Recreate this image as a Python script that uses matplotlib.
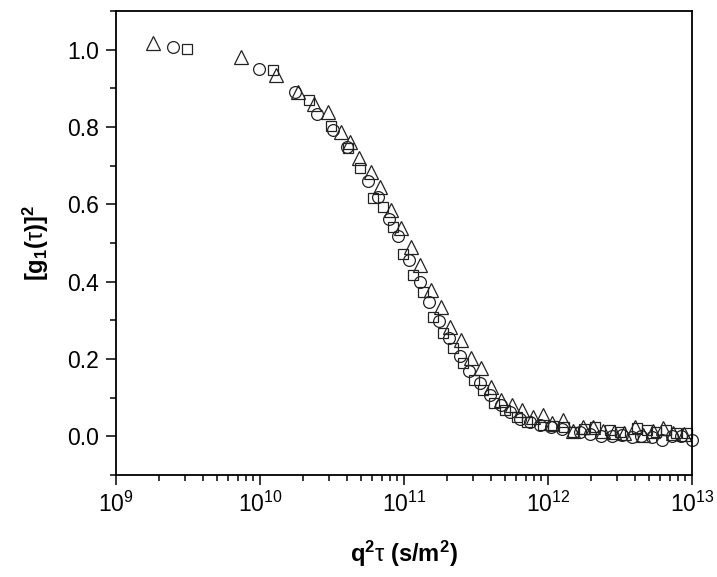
import matplotlib
matplotlib.use('Agg')
import matplotlib.pyplot as plt
from matplotlib.ticker import LogLocator, MultipleLocator, NullFormatter

plt.rcParams['font.family'] = 'Liberation Sans'
plt.rcParams['mathtext.fontset'] = 'custom'
plt.rcParams['mathtext.rm'] = 'Liberation Sans'
plt.rcParams['mathtext.it'] = 'Liberation Sans'
plt.rcParams['mathtext.bf'] = 'Liberation Sans:bold'

# triangles
tri_x = [1.82e9, 7.38e9, 1.285e10, 1.83e10, 2.38e10, 2.95e10, 3.68e10, 4.22e10, 4.87e10, 5.87e10,
         6.76e10, 8.09e10, 9.58e10, 1.114e11, 1.30e11, 1.535e11, 1.80e11, 2.10e11, 2.48e11, 2.90e11,
         3.41e11, 4.00e11, 4.72e11, 5.60e11, 6.56e11, 7.83e11, 9.19e11, 1.074e12, 1.265e12, 1.485e12,
         1.74e12, 2.05e12, 2.40e12, 2.87e12, 3.37e12, 4.02e12, 4.57e12, 5.36e12, 6.29e12, 7.38e12, 8.80e12]
tri_y = [1.018, 0.982, 0.934, 0.891, 0.859, 0.840, 0.788, 0.762, 0.720, 0.684,
         0.645, 0.585, 0.540, 0.490, 0.443, 0.378, 0.335, 0.283, 0.249, 0.202,
         0.177, 0.128, 0.094, 0.081, 0.068, 0.050, 0.055, 0.034, 0.042, 0.014,
         0.024, 0.025, 0.014, 0.012, 0.009, 0.025, 0.003, 0.014, 0.021, 0.009, 0.006]

# squares
sq_x = [3.13e9, 1.237e10, 2.19e10, 3.10e10, 4.08e10, 4.95e10, 6.09e10, 7.11e10, 8.39e10, 9.89e10,
        1.146e11, 1.355e11, 1.597e11, 1.87e11, 2.18e11, 2.56e11, 3.06e11, 3.52e11, 4.22e11, 5.02e11,
        6.06e11, 7.11e11, 9.23e11, 1.08e12, 1.29e12, 1.49e12, 1.78e12, 2.12e12, 2.70e12, 3.16e12,
        4.13e12, 4.84e12, 5.62e12, 6.59e12, 7.74e12, 9.19e12]
sq_y = [1.001, 0.947, 0.870, 0.802, 0.746, 0.694, 0.616, 0.594, 0.542, 0.471,
        0.416, 0.374, 0.309, 0.268, 0.228, 0.190, 0.146, 0.120, 0.086, 0.068,
        0.051, 0.038, 0.029, 0.027, 0.025, 0.012, 0.020, 0.025, 0.016, 0.012,
        0.021, 0.016, 0.010, 0.016, 0.008, 0.009]

# circles
ci_x = [2.48e9, 9.89e9, 1.75e10, 2.48e10, 3.21e10, 3.99e10, 5.62e10, 6.65e10, 7.89e10, 9.12e10,
        1.084e11, 1.285e11, 1.503e11, 1.75e11, 2.04e11, 2.43e11, 2.85e11, 3.37e11, 3.96e11, 4.68e11,
        5.45e11, 6.39e11, 7.50e11, 8.87e11, 1.05e12, 1.26e12, 1.67e12, 1.96e12, 2.33e12, 2.77e12,
        3.25e12, 3.81e12, 4.43e12, 5.25e12, 6.16e12, 7.23e12, 8.39e12, 9.95e12]
ci_y = [1.008, 0.949, 0.891, 0.833, 0.791, 0.749, 0.660, 0.620, 0.561, 0.517,
        0.457, 0.400, 0.348, 0.299, 0.255, 0.208, 0.169, 0.138, 0.107, 0.081,
        0.062, 0.046, 0.038, 0.028, 0.025, 0.019, 0.012, 0.006, 0.001, 0.000,
        0.003, -0.001, 0.000, -0.002, -0.010, 0.001, 0.000, -0.010]

fig = plt.figure(figsize=(7.17, 5.77), dpi=100)
ax = fig.add_axes([0.1618, 0.1768, 0.8033, 0.8041])

mk = dict(linestyle='none', markerfacecolor='none', markeredgecolor='#222222',
          markeredgewidth=0.9, clip_on=False)
ax.plot(sq_x, sq_y, marker='s', markersize=7.5, **mk)
ax.plot(ci_x, ci_y, marker='o', markersize=8.5, **mk)
ax.plot(tri_x, tri_y, marker='^', markersize=9.5, **mk)

ax.set_xscale('log')
ax.set_xlim(1e9, 1e13)
ax.set_ylim(-0.1, 1.1)
ax.xaxis.set_major_locator(LogLocator(base=10, numticks=10))
ax.xaxis.set_minor_locator(LogLocator(base=10, subs=range(2, 10), numticks=50))
ax.xaxis.set_minor_formatter(NullFormatter())
ax.yaxis.set_major_locator(MultipleLocator(0.2))
ax.yaxis.set_minor_locator(MultipleLocator(0.1))
ax.yaxis.set_major_formatter(plt.FuncFormatter(lambda v, p: '%.1f' % v))

for s in ax.spines.values():
    s.set_linewidth(1.3)
ax.tick_params(which='both', direction='out', top=False, right=False, width=1.1, labelsize=16.5)
ax.tick_params(which='major', length=7, pad=5)
ax.tick_params(which='minor', length=4)

ax.set_xlabel(r'$\mathbf{q^2}\tau\ \mathbf{(s/m^2)}$', fontsize=17, labelpad=16)
ax.set_ylabel(r'$\mathbf{[g_1(}\tau\mathbf{)]^2}$', fontsize=17, labelpad=12)

fig.savefig('out.png', dpi=100)
